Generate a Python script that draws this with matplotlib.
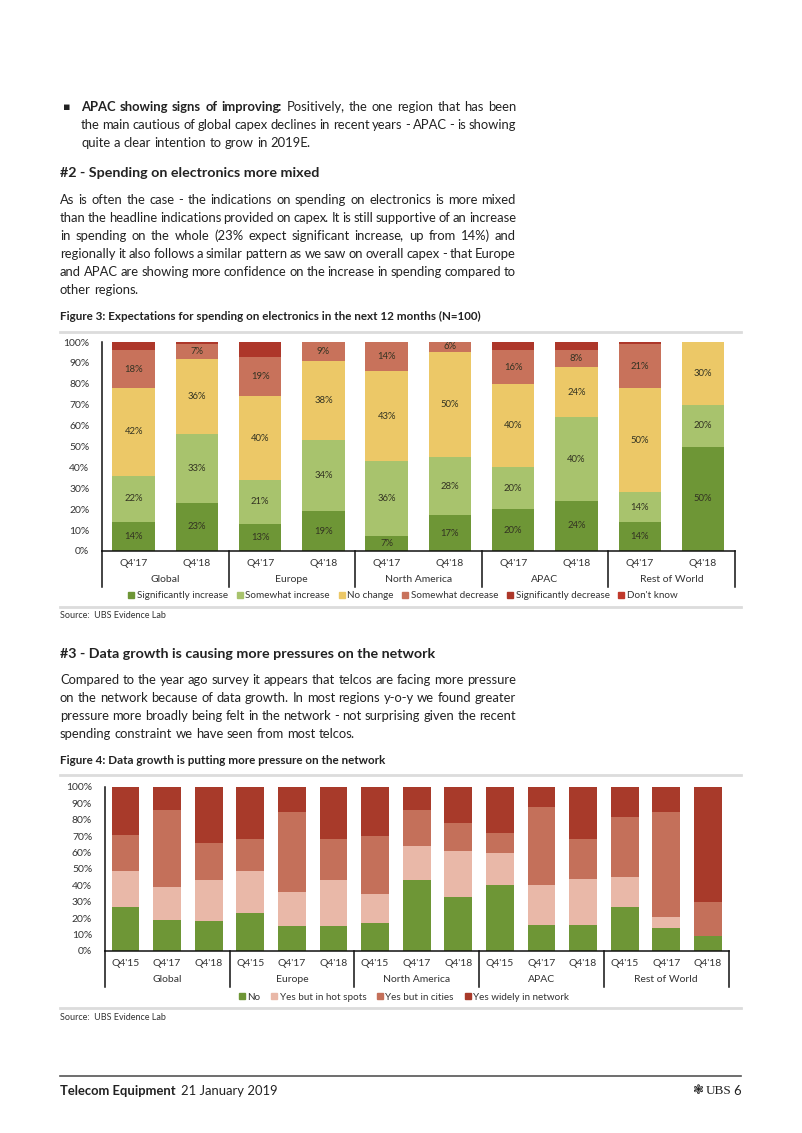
import matplotlib
matplotlib.use('Agg')
import matplotlib.pyplot as plt
import numpy as np
from matplotlib.lines import Line2D
from matplotlib.patches import Patch

plt.rcParams['font.family'] = ['Lato', 'DejaVu Sans']

W, H = 802, 1133
fig = plt.figure(figsize=(W / 100, H / 100), dpi=100)
renderer = fig.canvas.get_renderer()

# ---------------- data ----------------
fig3_regions = ['Global', 'Europe', 'North America', 'APAC', 'Rest of World']
fig3_periods = ["Q4'17", "Q4'18"]
fig3_series = ['Significantly increase', 'Somewhat increase', 'No change',
               'Somewhat decrease', 'Significantly decrease', "Don't know"]
sig_increase = [14, 23, 13, 19, 7, 17, 20, 24, 14, 50]
smw_increase = [22, 33, 21, 34, 36, 28, 20, 40, 14, 20]
no_change = [42, 36, 40, 38, 43, 50, 40, 24, 50, 30]
smw_decrease = [18, 7, 19, 9, 14, 6, 16, 8, 21, 0]
sig_decrease = [4, 1, 7, 0, 0, 0, 4, 4, 1, 0]
dont_know = [0, 0, 0, 0, 0, 0, 0, 0, 0, 0]
fig3_colors = ['#6e9636', '#a8c36d', '#ecc867', '#c8725b', '#ad372a', '#c0392b']

fig4_regions = ['Global', 'Europe', 'North America', 'APAC', 'Rest of World']
fig4_periods = ["Q4'15", "Q4'17", "Q4'18"]
fig4_series = ['No', 'Yes but in hot spots', 'Yes but in cities', 'Yes widely in network']
no_pressure = [27, 19, 18, 23, 15, 15, 17, 43, 33, 40, 16, 16, 27, 14, 9]
hot_spots = [22, 20, 25, 26, 21, 28, 18, 21, 28, 20, 24, 28, 18, 7, 0]
in_cities = [22, 47, 23, 19, 49, 25, 35, 22, 17, 12, 48, 24, 37, 64, 21]
widely = [29, 14, 34, 32, 15, 32, 30, 14, 22, 28, 12, 32, 18, 15, 70]
fig4_colors = ['#6e9636', '#e9b8a8', '#c4705a', '#a83a2a']


def fx(x):
    return x / W


def fy(y):
    return 1 - y / H


def tw(t):
    return t.get_window_extent(renderer).width


def measure(s, size, wt):
    t = fig.text(0, 0, s, fontsize=size, weight=wt)
    w = tw(t)
    t.remove()
    return w


PUNCT_SHIFT = 2.0


def draw_line(words, x0, x1, y, size, justify=True, color='#222222'):
    """words: list of (text, weight); y is the line centre in px"""
    yb = y + 4.2
    groups = []
    for w, wt in words:
        full = measure(w, size, wt)
        if len(w) > 1 and w[-1] in ',.:':
            pw = measure(w[-1], size, wt)
            parts = [(w[:-1], 0.0), (w[-1], full - pw - PUNCT_SHIFT)]
        else:
            parts = [(w, 0.0)]
        objs = [(fig.text(fx(x0), fy(yb), p, fontsize=size, weight=wt, color=color,
                          va='baseline', ha='left'), off) for p, off in parts]
        groups.append((objs, full))
    sp = measure('x x', size, 'normal') - measure('xx', size, 'normal')
    total = sum(f for _, f in groups)
    if justify and len(groups) > 1:
        gap = (x1 - x0 - total) / (len(groups) - 1)
    else:
        gap = sp
    x = x0
    for objs, full in groups:
        for o, off in objs:
            o.set_x(fx(x + off))
        x += full + gap


def para(lines, x0, x1, y0, dy, size, bold_prefix=None):
    for i, ln in enumerate(lines):
        words = [(w, 'normal') for w in ln.split(' ')]
        if i == 0 and bold_prefix:
            nb = len(bold_prefix.split(' '))
            words = [(w, 'bold') for w in ln.split(' ')[:nb]] + words[nb:]
        draw_line(words, x0, x1, y0 + i * dy, size, justify=(i < len(lines) - 1))


BODY = 9.4
# ---------------- text ----------------
fig.text(fx(63), fy(107), '\u25aa', fontsize=8, va='center', ha='left', color='#222222',
         family=['DejaVu Sans'])
para(["APAC showing signs of improving: Positively, the one region that has been",
      "the main cautious of global capex declines in recent years - APAC - is showing",
      "quite a clear intention to grow in 2019E."],
     81, 516, 107, 18, BODY, bold_prefix="APAC showing signs of improving:")

fig.text(fx(60), fy(173), '#2 - Spending on electronics more mixed', fontsize=10.3,
         weight='bold', va='center', ha='left', color='#222222')
para(["As is often the case - the indications on spending on electronics is more mixed",
      "than the headline indications provided on capex. It is still supportive of an increase",
      "in spending on the whole (23% expect significant increase, up from 14%) and",
      "regionally it also follows a similar pattern as we saw on overall capex - that Europe",
      "and APAC are showing more confidence on the increase in spending compared to",
      "other regions."], 60, 516, 200, 17.9, BODY)

fig.text(fx(60), fy(316), 'Figure 3: Expectations for spending on electronics in the next 12 months (N=100)',
         fontsize=8.4, weight='bold', va='center', ha='left', color='#222222')
fig.text(fx(60), fy(616), 'Source:  UBS Evidence Lab', fontsize=6.5, va='center', ha='left',
         color='#333333')

fig.text(fx(60), fy(654), '#3 - Data growth is causing more pressures on the network', fontsize=10.3,
         weight='bold', va='center', ha='left', color='#222222')
para(["Compared to the year ago survey it appears that telcos are facing more pressure",
      "on the network because of data growth. In most regions y-o-y we found greater",
      "pressure more broadly being felt in the network - not surprising given the recent",
      "spending constraint we have seen from most telcos."], 60, 516, 680, 18, BODY)

fig.text(fx(60), fy(760), 'Figure 4: Data growth is putting more pressure on the network',
         fontsize=8.4, weight='bold', va='center', ha='left', color='#222222')
fig.text(fx(60), fy(1017), 'Source:  UBS Evidence Lab', fontsize=6.5, va='center', ha='left',
         color='#333333')

# separator lines
for y, x1 in [(332, 741), (607, 741), (775, 741), (1008, 741)]:
    fig.add_artist(Line2D([fx(60), fx(x1)], [fy(y), fy(y)], color='#dcdcdc', lw=2))
fig.add_artist(Line2D([fx(60), fx(741)], [fy(1076), fy(1076)], color='#555555', lw=1.2))

# footer
fig.text(fx(60), fy(1091), 'Telecom Equipment', fontsize=9.4, weight='bold', va='center',
         ha='left', color='#222222')
fig.text(fx(181), fy(1091), '21 January 2019', fontsize=9.4, va='center', ha='left',
         color='#222222')
fig.text(fx(741), fy(1091), '6', fontsize=9.4, va='center', ha='right', color='#222222')
fig.text(fx(731), fy(1091), 'UBS', fontsize=9.5, va='center', ha='right', color='#222222',
         family=['Liberation Serif'])
fig.text(fx(704), fy(1091), '\u2743', fontsize=9.5, va='center', ha='right', color='#222222',
         family=['DejaVu Sans'])


# ---------------- chart helper ----------------
def stacked(ax, series, colors, regions, periods, label_vals, sep_bottom, tick_off, grp_off,
            width):
    n = len(series[0])
    x = np.arange(n)
    bottom = np.zeros(n)
    for si, (vals, col) in enumerate(zip(series, colors)):
        vals = np.array(vals, dtype=float)
        ax.bar(x, vals, width, bottom=bottom, color=col, edgecolor='none', zorder=2)
        if si in label_vals:
            for xi, v, b in zip(x, vals, bottom):
                if v >= 5:
                    ax.text(xi, b + v / 2, f'{int(v)}%', ha='center', va='center',
                            fontsize=6.8, color='#333322', zorder=3)
        bottom += vals
    ax.set_xlim(-0.5, n - 0.5)
    ax.set_ylim(0, 100)
    ax.set_yticks(np.arange(0, 101, 10))
    ax.set_yticklabels([f'{v}%' for v in range(0, 101, 10)], fontsize=7.5, color='#333333')
    ax.tick_params(axis='y', length=0, pad=9)
    ax.set_xticks([])
    for s in ['top', 'right']:
        ax.spines[s].set_visible(False)
    ax.spines['left'].set_color('#111111')
    ax.spines['bottom'].set_color('#111111')
    ax.spines['left'].set_linewidth(1.1)
    ax.spines['bottom'].set_linewidth(1.1)
    trans = ax.get_xaxis_transform()
    per = len(periods)
    for gi in range(len(regions) + 1):
        xs = gi * per - 0.5
        ax.add_line(Line2D([xs, xs], [0, sep_bottom], transform=trans, color='#111111',
                           lw=1.1, clip_on=False))
    for i in range(n):
        ax.text(i, tick_off, periods[i % per], transform=trans, ha='center', va='center',
                fontsize=7.5, color='#333333')
    for gi, r in enumerate(regions):
        ax.text(gi * per + (per - 1) / 2, grp_off, r, transform=trans, ha='center',
                va='center', fontsize=7.5, color='#333333')


# ---------------- Figure 3 ----------------
ax1 = fig.add_axes([fx(102), fy(551), (734.6 - 102) / W, (551 - 342) / H])
stacked(ax1, [sig_increase, smw_increase, no_change, smw_decrease, sig_decrease, dont_know],
        fig3_colors, fig3_regions, fig3_periods, label_vals={0, 1, 2, 3},
        sep_bottom=-(587 - 551) / 209, tick_off=-(563 - 551) / 209,
        grp_off=-(580 - 551) / 209, width=0.67)
h1 = [Patch(color=c) for c in fig3_colors]
fig.legend(h1, fig3_series, loc='center', bbox_to_anchor=(fx(403), fy(596)), ncol=6,
           frameon=False, fontsize=7.1, handlelength=0.6, handleheight=0.6,
           handletextpad=0.25, columnspacing=0.9, labelcolor='#333333')

# ---------------- Figure 4 ----------------
ax2 = fig.add_axes([fx(104.7), fy(951), (728.7 - 104.7) / W, (951 - 787) / H])
stacked(ax2, [no_pressure, hot_spots, in_cities, widely], fig4_colors, fig4_regions,
        fig4_periods, label_vals=set(), sep_bottom=-(987 - 951) / 164,
        tick_off=-(963 - 951) / 164, grp_off=-(980 - 951) / 164, width=0.665)
h2 = [Patch(color=c) for c in fig4_colors]
fig.legend(h2, fig4_series, loc='center', bbox_to_anchor=(fx(404), fy(997)), ncol=4,
           frameon=False, fontsize=7.1, handlelength=0.6, handleheight=0.6,
           handletextpad=0.25, columnspacing=1.1, labelcolor='#333333')

fig.savefig('out.png', dpi=100, facecolor='white')
